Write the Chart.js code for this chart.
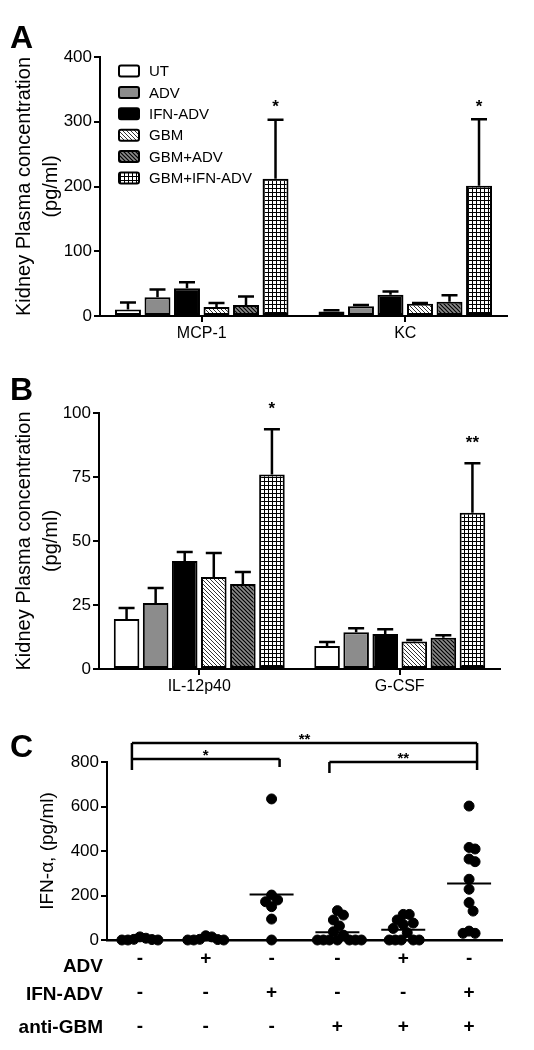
<!DOCTYPE html>
<html>
<head>
<meta charset="utf-8">
<script src="https://cdn.jsdelivr.net/npm/chart.js@4.4.0/dist/chart.umd.min.js"></script>
<style>
  body { margin: 0; background: #fff; }
  #page { position: relative; width: 534px; height: 1050px; }
  canvas { position: absolute; left: 0; }
</style>
</head>
<body>
<div id="page">
  <canvas id="panelA" width="534" height="345" style="top:0"></canvas>
  <canvas id="panelB" width="534" height="352" style="top:345px"></canvas>
  <canvas id="panelC" width="534" height="353" style="top:697px"></canvas>
</div>
<script>
const groups = ['UT', 'ADV', 'IFN-ADV', 'GBM', 'GBM+ADV', 'GBM+IFN-ADV'];

// panel A
const cytokinesA = ['MCP-1', 'KC'];
const mcp1Mean = [10, 29, 43, 14, 17, 212];
const mcp1Sem = [11, 12, 9, 6, 13, 91];
const kcMean = [7, 15, 33, 19, 22, 201];
const kcSem = [2, 2, 5, 1, 10, 103];
const sigA = ['*', '*'];
const ticksA = [0, 100, 200, 300, 400];

// panel B
const cytokinesB = ['IL-12p40', 'G-CSF'];
const il12Mean = [19.5, 25.8, 42.2, 35.9, 33.2, 76];
const il12Sem = [4.3, 5.8, 3.5, 9.4, 4.7, 17.7];
const gcsfMean = [9, 14.4, 13.7, 10.7, 12.2, 61];
const gcsfSem = [1.5, 1.5, 1.8, 0.6, 1.0, 19.4];
const sigB = ['*', '**'];
const ticksB = [0, 25, 50, 75, 100];

// panel C - IFN-alpha per mouse
const ifnUT = [0, 8, 2, 0, 3, 0, 14];
const ifnADV = [19, 0, 2, 0, 0, 3, 14];
const ifnIFNADV = [634, 180, 202, 172, 150, 94, 0];
const ifnGBM = [90, 112, 132, 63, 37, 22, 0, 0, 0, 0, 0, 0, 0];
const ifnGBMADV = [70, 90, 115, 115, 76, 52, 33, 0, 0, 0, 0, 0];
const ifnGBMIFN = [602, 364, 352, 409, 416, 273, 228, 168, 130, 40, 30, 30];
const ticksC = [0, 200, 400, 600, 800];
const rowLabels = ['ADV', 'IFN-ADV', 'anti-GBM'];
const advRow = ['-', '+', '-', '-', '+', '-'];
const ifnRow = ['-', '-', '+', '-', '-', '+'];
const gbmRow = ['-', '-', '-', '+', '+', '+'];
// comparisons: [from group, to group, bar height, label]
const comparisons = [[0, 5, 885, '**'], [0, 2, 813, '*'], [3, 5, 800, '**']];

const ink = '#000';
const FONT = '"Liberation Sans", Arial, sans-serif';
Chart.defaults.font.family = FONT;
Chart.defaults.color = ink;

function fillsFor(ctx) {
  function tile(size, bg, draw) {
    const c = document.createElement('canvas');
    c.width = size; c.height = size;
    const g = c.getContext('2d');
    g.fillStyle = bg;
    g.fillRect(0, 0, size, size);
    draw(g, size);
    return ctx.createPattern(c, 'repeat');
  }
  function diag(color, w) {
    return (g, s) => {
      g.strokeStyle = color; g.lineWidth = w;
      g.beginPath();
      g.moveTo(-1, -1); g.lineTo(s + 1, s + 1);
      g.moveTo(-1, s - 1); g.lineTo(1, s + 1);
      g.moveTo(s - 1, -1); g.lineTo(s + 1, 1);
      g.stroke();
    };
  }
  return [
    '#ffffff',
    '#8c8c8c',
    '#000000',
    tile(4, '#ffffff', diag('#333', 1)),
    tile(4, '#8a8a8a', diag('#000', 1.2)),
    tile(4, '#ffffff', (g, s) => { g.fillStyle = '#000'; g.fillRect(0, 0, s, 1); g.fillRect(0, 0, 1, s); })
  ];
}

function letterPlugin(letter, x, y) {
  return {
    id: 'letter',
    afterDraw(chart) {
      const ctx = chart.ctx;
      ctx.save();
      ctx.font = 'bold 32px ' + FONT;
      ctx.fillStyle = ink;
      ctx.textBaseline = 'alphabetic';
      ctx.fillText(letter, x, y);
      ctx.restore();
    }
  };
}

function errorBars(sems, sig, sigGap) {
  return {
    id: 'errorBars',
    afterDatasetsDraw(chart) {
      const ctx = chart.ctx, y = chart.scales.y;
      const last = chart.data.datasets.length - 1;
      ctx.save();
      ctx.strokeStyle = ink;
      ctx.lineWidth = 2.5;
      chart.data.datasets.forEach((ds, di) => {
        chart.getDatasetMeta(di).data.forEach((bar, ci) => {
          const top = y.getPixelForValue(ds.data[ci] + sems[ci][di]);
          ctx.beginPath();
          ctx.moveTo(bar.x, bar.y);
          ctx.lineTo(bar.x, top);
          ctx.moveTo(bar.x - 8, top);
          ctx.lineTo(bar.x + 8, top);
          ctx.stroke();
          if (di === last && sig[ci]) {
            ctx.font = 'bold 17px ' + FONT;
            ctx.fillStyle = ink;
            ctx.textAlign = 'center';
            ctx.textBaseline = 'middle';
            ctx.fillText(sig[ci], bar.x, top - sigGap);
          }
        });
      });
      ctx.restore();
    }
  };
}

const legendPlugin = {
  id: 'boxLegend',
  afterDraw(chart) {
    const ctx = chart.ctx;
    ctx.save();
    chart.data.datasets.forEach((ds, i) => {
      const cy = 71 + i * 21.4;
      ctx.fillStyle = ds.backgroundColor;
      ctx.strokeStyle = ink;
      ctx.lineWidth = 2;
      ctx.beginPath();
      ctx.roundRect(119, cy - 5.5, 20, 11, 2);
      ctx.fill();
      ctx.stroke();
      ctx.fillStyle = ink;
      ctx.font = '15px ' + FONT;
      ctx.textBaseline = 'middle';
      ctx.fillText(ds.label, 149, cy + 1);
    });
    ctx.restore();
  }
};

function barPanel(id, cats, means, sems, sig, ticks, sigGap, scaleW, padRight, padTop, axisH, letter, letterY, withLegend) {
  const canvas = document.getElementById(id);
  const fills = fillsFor(canvas.getContext('2d'));
  const plugins = [errorBars(sems, sig, sigGap), letterPlugin(letter, 10, letterY)];
  if (withLegend) plugins.push(legendPlugin);
  return new Chart(canvas, {
    type: 'bar',
    data: {
      labels: cats,
      datasets: groups.map((g, di) => ({
        label: g,
        data: means.map(m => m[di]),
        backgroundColor: fills[di],
        borderColor: ink,
        borderWidth: 2,
        borderSkipped: false,
        categoryPercentage: 0.87,
        barPercentage: 0.88
      }))
    },
    options: {
      responsive: false,
      animation: false,
      layout: { padding: { top: padTop, right: padRight, left: 0, bottom: 0 } },
      plugins: { legend: { display: false }, tooltip: { enabled: false } },
      scales: {
        x: {
          grid: { offset: false, drawOnChartArea: false, color: ink, lineWidth: 2, tickLength: 6 },
          border: { color: ink, width: 2 },
          ticks: { font: { size: 16 }, padding: 2, color: ink },
          afterFit: s => { s.height = axisH; }
        },
        y: {
          min: ticks[0],
          max: ticks[ticks.length - 1],
          afterBuildTicks: s => { s.ticks = ticks.map(v => ({ value: v })); },
          grid: { drawOnChartArea: false, color: ink, lineWidth: 2, tickLength: 6 },
          border: { color: ink, width: 2 },
          ticks: { font: { size: 17 }, padding: 2, color: ink },
          title: {
            display: true,
            text: ['Kidney Plasma concentration', '(pg/ml)'],
            font: { size: 20, lineHeight: 1.35 },
            padding: { top: 11, bottom: 0 },
            color: ink
          },
          afterFit: s => { s.width = scaleW; }
        }
      }
    },
    plugins: plugins
  });
}

barPanel('panelA', cytokinesA, [mcp1Mean, kcMean], [mcp1Sem, kcSem], sigA, ticksA,
  12, 100, 27, 57, 29, 'A', 48, true);
barPanel('panelB', cytokinesB, [il12Mean, gcsfMean], [il12Sem, gcsfSem], sigB, ticksB,
  20, 99, 34, 68, 28, 'B', 55, false);

// swarm layout: highest dots first, each one slides sideways until it
// no longer overlaps (ellipse test, sizes in px, converted to axis units)
const colPx = 65.8, valPx = 178 / 800;
function swarm(values) {
  const order = values.map((v, i) => i).sort((a, b) => values[b] - values[a]);
  const placed = [];
  const off = new Array(values.length).fill(0);
  order.forEach(i => {
    for (let k = 0; k < 80; k++) {
      const o = k === 0 ? 0 : (k % 2 ? 1 : -1) * Math.ceil(k / 2) * 2;
      const hit = placed.some(p => {
        const dx = (p.o - o) / 6, dy = (p.v - values[i]) * valPx / 10;
        return dx * dx + dy * dy < 1;
      });
      if (!hit) { off[i] = o / colPx; placed.push({ v: values[i], o: o }); break; }
    }
  });
  return off;
}

const valuesC = [ifnUT, ifnADV, ifnIFNADV, ifnGBM, ifnGBMADV, ifnGBMIFN];

const meanLines = {
  id: 'meanLines',
  afterDatasetsDraw(chart) {
    const ctx = chart.ctx, xs = chart.scales.x, ys = chart.scales.y;
    ctx.save();
    ctx.strokeStyle = ink;
    ctx.lineWidth = 2;
    valuesC.forEach((vals, gi) => {
      const m = vals.reduce((a, b) => a + b, 0) / vals.length;
      const px = xs.getPixelForValue(gi), py = ys.getPixelForValue(m);
      ctx.beginPath();
      ctx.moveTo(px - 22, py);
      ctx.lineTo(px + 22, py);
      ctx.stroke();
    });
    ctx.restore();
  }
};

const tablePlugin = {
  id: 'signTable',
  afterDraw(chart) {
    const ctx = chart.ctx, xs = chart.scales.x;
    const base = chart.chartArea.bottom;
    const rows = [advRow, ifnRow, gbmRow];
    const labelY = [27, 55, 88];
    ctx.save();
    ctx.fillStyle = ink;
    ctx.font = 'bold 19px ' + FONT;
    ctx.textBaseline = 'middle';
    rows.forEach((row, ri) => {
      const y = base + 19 + ri * 34;
      ctx.textAlign = 'right';
      ctx.fillText(rowLabels[ri], 103, base + labelY[ri]);
      ctx.textAlign = 'center';
      row.forEach((s, gi) => ctx.fillText(s, xs.getPixelForValue(gi), y));
    });
    ctx.restore();
  }
};

const bracketPlugin = {
  id: 'brackets',
  afterDraw(chart) {
    const ctx = chart.ctx, xs = chart.scales.x, ys = chart.scales.y;
    ctx.save();
    ctx.strokeStyle = ink;
    ctx.lineWidth = 2.5;
    ctx.fillStyle = ink;
    ctx.font = 'bold 15px ' + FONT;
    ctx.textAlign = 'center';
    ctx.textBaseline = 'bottom';
    comparisons.forEach(([a, b, h, label], k) => {
      const x1 = xs.getPixelForValue(a) - 8, x2 = xs.getPixelForValue(b) + 8;
      const y = ys.getPixelForValue(h);
      ctx.beginPath();
      ctx.moveTo(x1, y); ctx.lineTo(x2, y);
      if (k === 0) {
        ctx.moveTo(x1, y); ctx.lineTo(x1, y + 27);
        ctx.moveTo(x2, y); ctx.lineTo(x2, y + 27);
      } else if (k === 1) {
        ctx.moveTo(x2, y); ctx.lineTo(x2, y + 8);
      } else {
        ctx.moveTo(x1, y); ctx.lineTo(x1, y + 11);
      }
      ctx.stroke();
      ctx.fillText(label, (x1 + x2) / 2, y + 4);
    });
    ctx.restore();
  }
};

new Chart(document.getElementById('panelC'), {
  type: 'scatter',
  data: {
    datasets: valuesC.map((vals, gi) => {
      const off = swarm(vals);
      return {
        data: vals.map((v, i) => ({ x: gi + off[i], y: v })),
        backgroundColor: ink,
        borderColor: ink,
        pointRadius: 5,
        clip: false
      };
    })
  },
  options: {
    responsive: false,
    animation: false,
    layout: { padding: { top: 65, right: 32, left: 0, bottom: 0 } },
    plugins: { legend: { display: false }, tooltip: { enabled: false } },
    scales: {
      x: {
        type: 'linear',
        min: -0.5,
        max: 5.5,
        grid: { display: false },
        border: { color: ink, width: 2.5 },
        ticks: { display: false },
        afterFit: s => { s.height = 110; }
      },
      y: {
        min: 0,
        max: 800,
        afterBuildTicks: s => { s.ticks = ticksC.map(v => ({ value: v })); },
        grid: { drawOnChartArea: false, color: ink, lineWidth: 2, tickLength: 6 },
        border: { color: ink, width: 2 },
        ticks: { font: { size: 17 }, padding: 2, color: ink },
        title: {
          display: true,
          text: 'IFN-α, (pg/ml)',
          font: { size: 19, lineHeight: 1.2 },
          padding: { top: 36, bottom: 0 },
          color: ink
        },
        afterFit: s => { s.width = 107; }
      }
    }
  },
  plugins: [meanLines, tablePlugin, bracketPlugin, letterPlugin('C', 10, 60)]
});
</script>
</body>
</html>
